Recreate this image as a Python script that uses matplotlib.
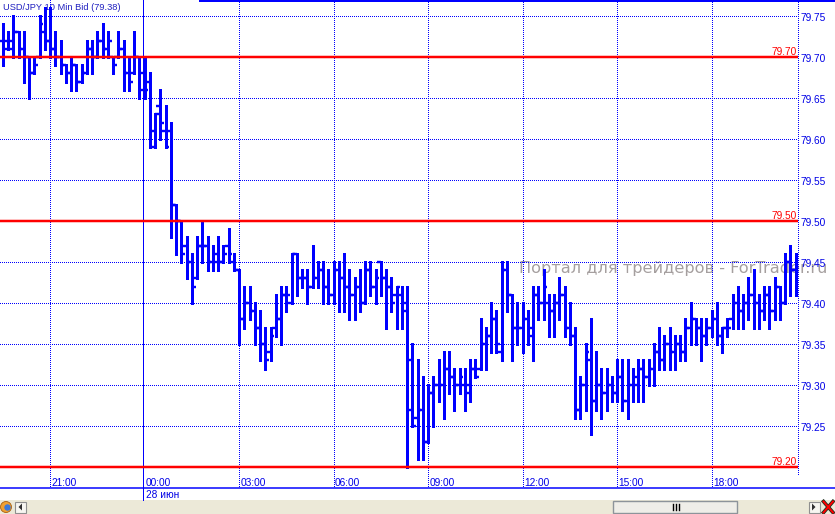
import numpy as np
import pandas as pd
import matplotlib
matplotlib.use('Agg')
import matplotlib.pyplot as plt
import matplotlib.transforms as mtransforms
from matplotlib.collections import LineCollection
from matplotlib.patches import Rectangle, Polygon, Circle

plt.rcParams['font.family'] = ['Liberation Sans', 'DejaVu Sans']

# ---- data (USD/JPY, 10 min bars) ----
title = 'USD/JPY 10 Min Bid (79.38)'
start_time = '2012-06-27 19:30'
month_names = ['янв', 'фев', 'мар', 'апр', 'мая', 'июн', 'июл', 'авг', 'сен', 'окт', 'ноя', 'дек']

opens = [
    79.72, 79.72, 79.71, 79.73, 79.71, 79.70, 79.68, 79.70, 79.73, 79.72,
    79.71, 79.70, 79.69, 79.68, 79.69, 79.67, 79.68, 79.71, 79.70, 79.72,
    79.71, 79.70, 79.70, 79.71, 79.68, 79.68, 79.70, 79.68, 79.67, 79.61,
    79.64, 79.61, 79.61, 79.52, 79.50, 79.47, 79.45, 79.43, 79.47, 79.47,
    79.45, 79.45, 79.45, 79.47, 79.45, 79.44, 79.38, 79.40, 79.39, 79.37,
    79.35, 79.34, 79.37, 79.38, 79.41, 79.40, 79.46, 79.43, 79.43, 79.42,
    79.43, 79.44, 79.42, 79.41, 79.44, 79.43, 79.42, 79.41, 79.42, 79.40,
    79.44, 79.42, 79.45, 79.43, 79.42, 79.41, 79.41, 79.40, 79.33, 79.26,
    79.27, 79.23, 79.29, 79.30, 79.30, 79.32, 79.31, 79.30, 79.30, 79.30,
    79.32, 79.32, 79.35, 79.36, 79.38, 79.34, 79.44, 79.41, 79.37, 79.37,
    79.38, 79.37, 79.41, 79.40, 79.40, 79.39, 79.40, 79.41, 79.37, 79.36,
    79.27, 79.30, 79.33, 79.28, 79.30, 79.29, 79.30, 79.29, 79.31, 79.28,
    79.30, 79.30, 79.32, 79.31, 79.32, 79.34, 79.33, 79.35, 79.34, 79.35,
    79.34, 79.37, 79.38, 79.37, 79.36, 79.37, 79.38, 79.36, 79.37, 79.38,
    79.40, 79.39, 79.40, 79.41, 79.40, 79.39, 79.41, 79.39, 79.42, 79.40,
    79.45, 79.44]
highs = [
    79.74, 79.73, 79.75, 79.73, 79.73, 79.70, 79.70, 79.75, 79.76, 79.76,
    79.73, 79.72, 79.69, 79.70, 79.69, 79.69, 79.72, 79.72, 79.73, 79.74,
    79.73, 79.70, 79.73, 79.72, 79.70, 79.73, 79.70, 79.70, 79.68, 79.63,
    79.66, 79.64, 79.62, 79.52, 79.50, 79.48, 79.46, 79.48, 79.50, 79.48,
    79.47, 79.48, 79.47, 79.49, 79.46, 79.44, 79.42, 79.42, 79.40, 79.39,
    79.37, 79.37, 79.41, 79.42, 79.42, 79.46, 79.46, 79.44, 79.44, 79.47,
    79.45, 79.45, 79.44, 79.45, 79.45, 79.46, 79.44, 79.43, 79.44, 79.45,
    79.45, 79.44, 79.45, 79.44, 79.43, 79.42, 79.42, 79.42, 79.35, 79.33,
    79.31, 79.30, 79.31, 79.33, 79.34, 79.34, 79.32, 79.32, 79.32, 79.33,
    79.33, 79.38, 79.37, 79.40, 79.39, 79.45, 79.45, 79.41, 79.40, 79.40,
    79.39, 79.42, 79.42, 79.44, 79.41, 79.41, 79.43, 79.42, 79.40, 79.37,
    79.31, 79.35, 79.38, 79.34, 79.32, 79.32, 79.31, 79.33, 79.33, 79.33,
    79.32, 79.33, 79.33, 79.33, 79.35, 79.37, 79.36, 79.37, 79.36, 79.36,
    79.38, 79.40, 79.38, 79.38, 79.38, 79.39, 79.40, 79.37, 79.38, 79.41,
    79.42, 79.41, 79.43, 79.44, 79.41, 79.42, 79.42, 79.43, 79.42, 79.46,
    79.47, 79.46]
lows = [
    79.69, 79.71, 79.70, 79.70, 79.67, 79.65, 79.68, 79.70, 79.71, 79.70,
    79.69, 79.68, 79.67, 79.66, 79.66, 79.67, 79.68, 79.68, 79.70, 79.70,
    79.70, 79.68, 79.70, 79.66, 79.66, 79.68, 79.65, 79.65, 79.59, 79.59,
    79.60, 79.59, 79.48, 79.46, 79.45, 79.43, 79.40, 79.43, 79.45, 79.44,
    79.44, 79.44, 79.45, 79.45, 79.44, 79.35, 79.37, 79.38, 79.35, 79.33,
    79.32, 79.33, 79.36, 79.35, 79.39, 79.40, 79.41, 79.42, 79.40, 79.42,
    79.42, 79.40, 79.40, 79.40, 79.39, 79.39, 79.38, 79.38, 79.39, 79.40,
    79.41, 79.40, 79.41, 79.37, 79.39, 79.37, 79.37, 79.20, 79.25, 79.21,
    79.21, 79.23, 79.25, 79.28, 79.26, 79.29, 79.27, 79.29, 79.27, 79.28,
    79.31, 79.32, 79.32, 79.34, 79.34, 79.33, 79.39, 79.33, 79.35, 79.34,
    79.35, 79.33, 79.38, 79.38, 79.36, 79.36, 79.38, 79.36, 79.35, 79.26,
    79.26, 79.27, 79.24, 79.27, 79.26, 79.27, 79.28, 79.28, 79.27, 79.26,
    79.28, 79.28, 79.28, 79.30, 79.30, 79.32, 79.32, 79.32, 79.32, 79.33,
    79.33, 79.35, 79.35, 79.33, 79.35, 79.36, 79.35, 79.34, 79.36, 79.37,
    79.37, 79.37, 79.38, 79.37, 79.37, 79.38, 79.37, 79.38, 79.38, 79.40,
    79.41, 79.41]
closes = [
    79.71, 79.72, 79.73, 79.71, 79.70, 79.68, 79.69, 79.74, 79.72, 79.71,
    79.70, 79.69, 79.68, 79.69, 79.67, 79.68, 79.71, 79.70, 79.72, 79.71,
    79.72, 79.69, 79.71, 79.68, 79.67, 79.70, 79.66, 79.66, 79.59, 79.63,
    79.62, 79.59, 79.52, 79.50, 79.46, 79.45, 79.42, 79.47, 79.47, 79.45,
    79.46, 79.45, 79.46, 79.46, 79.44, 79.38, 79.40, 79.39, 79.37, 79.35,
    79.33, 79.36, 79.38, 79.41, 79.41, 79.46, 79.43, 79.43, 79.42, 79.43,
    79.44, 79.42, 79.41, 79.44, 79.43, 79.42, 79.41, 79.42, 79.40, 79.44,
    79.42, 79.43, 79.43, 79.42, 79.40, 79.42, 79.39, 79.27, 79.25, 79.27,
    79.23, 79.29, 79.30, 79.30, 79.32, 79.31, 79.30, 79.31, 79.29, 79.32,
    79.31, 79.35, 79.36, 79.38, 79.35, 79.44, 79.41, 79.37, 79.37, 79.38,
    79.36, 79.41, 79.40, 79.42, 79.39, 79.40, 79.41, 79.37, 79.36, 79.27,
    79.30, 79.34, 79.28, 79.30, 79.29, 79.30, 79.29, 79.31, 79.28, 79.30,
    79.31, 79.32, 79.31, 79.32, 79.34, 79.33, 79.35, 79.34, 79.35, 79.34,
    79.37, 79.38, 79.37, 79.36, 79.37, 79.38, 79.36, 79.37, 79.37, 79.40,
    79.39, 79.40, 79.41, 79.40, 79.39, 79.41, 79.39, 79.42, 79.40, 79.45,
    79.44, 79.42]

price_levels = [79.75, 79.70, 79.65, 79.60, 79.55, 79.50, 79.45, 79.40, 79.35, 79.30, 79.25]
red_levels = [79.70, 79.50, 79.20]
watermark = 'Портал для трейдеров - ForTrader.ru'

BLUE = '#0000ff'
LABEL = '#0000e6'
RED = '#ff0000'
PX = 72 / 100  # one pixel in points

# ---- figure / pixel canvas ----
W, H = 835, 514
fig = plt.figure(figsize=(W / 100, H / 100), dpi=100)
pax = fig.add_axes([0, 0, 1, 1])
pax.set_xlim(0, W)
pax.set_ylim(H, 0)
pax.axis('off')

# chart area: x 0..798 px, y 0..487 px ; 10 min bar = 5.25 px, 0.01 = 8.2 px
CR, CB = 798, 487
ax = fig.add_axes([0, 1 - CB / H, CR / W, CB / H])
ax.patch.set_visible(False)
ax.axis('off')
ax.set_xlim(-2.75 / 5.25, (CR - 2.75) / 5.25)
ax.set_ylim(79.20 - (CB - 467) / 820, 79.70 + 57 / 820)

times = pd.date_range(start_time, periods=len(closes), freq='10min')
idx = np.arange(len(closes))

xdata_ypix = mtransforms.blended_transform_factory(ax.transData, pax.transData)
xpix_ydata = mtransforms.blended_transform_factory(pax.transData, ax.transData)
dot = (0, (1, 2))

# horizontal grid (crisp 1px dots)
for lv in price_levels:
    if lv not in red_levels:
        ax.axhline(lv, color=BLUE, lw=PX, ls=dot, antialiased=False, zorder=1)
# right axis line
pax.plot([CR - 0.5, CR - 0.5], [0, 475], color=BLUE, lw=PX, ls=dot, antialiased=False)

# time grid + labels
new_day = [i for i in idx[1:] if times[i].date() != times[i - 1].date()]
for i in idx:
    t = times[i]
    if t.minute == 0 and t.hour % 3 == 0:
        if i in new_day:
            pax.plot([i - 0.2, i - 0.2], [0, 500], color=BLUE, lw=PX, transform=xdata_ypix,
                     antialiased=False, zorder=3)
        else:
            pax.plot([i, i], [0, CB], color=BLUE, lw=PX, ls=dot, transform=xdata_ypix,
                     antialiased=False, zorder=3)
        ax.text(i + 0.3, 485.7, t.strftime('%H:%M'), transform=xdata_ypix, color=LABEL,
                fontsize=7.3, ha='left', va='baseline', clip_on=False)
for i in new_day:
    t = times[i]
    ax.text(i + 0.35, 498, '%d %s' % (t.day, month_names[t.month - 1]), transform=xdata_ypix,
            color=LABEL, fontsize=7.3, ha='left', va='baseline', clip_on=False)

# price labels on the right
for lv in price_levels:
    tr = mtransforms.offset_copy(xpix_ydata, fig=fig, x=0, y=-4.7, units='dots')
    pax.text(800.5, lv, '%.2f' % lv, transform=tr, color=LABEL, fontsize=7.3,
             ha='left', va='baseline')

# watermark (under the bars, runs over the price column like in the terminal)
pax.text(519, 273, watermark, color='#a59f9f', fontsize=11.65, family='DejaVu Sans',
         ha='left', va='baseline', zorder=1)

# ---- OHLC bars ----
vert = [[(i, l), (i, h)] for i, l, h in zip(idx, lows, highs)]
otick = [[(i - 0.75, o), (i, o)] for i, o in zip(idx, opens)]
ctick = [[(i, c), (i + 0.75, c)] for i, c in zip(idx, closes)]
ax.add_collection(LineCollection(vert, colors=BLUE, linewidths=3 * PX, capstyle='projecting', zorder=4))
ax.add_collection(LineCollection(otick + ctick, colors=BLUE, linewidths=2.4 * PX, zorder=4))

# red level lines
for lv in red_levels:
    ax.axhline(lv, color=RED, lw=2.5 * PX, zorder=5)
    tr = mtransforms.offset_copy(xpix_ydata, fig=fig, x=0, y=2, units='dots')
    pax.text(796.5, lv, '%.2f' % lv, transform=tr, color=RED, fontsize=7.3,
             ha='right', va='baseline', zorder=6)

# title
pax.text(3, 10.5, title, color='#2020c0', fontsize=6.7, ha='left', va='baseline', zorder=2)

# top / bottom frame lines
pax.plot([200, W], [1, 1], color=BLUE, lw=2 * PX)
pax.plot([0, W], [488, 488], color=BLUE, lw=1.5 * PX)

# ---- scroll bar ----
pax.add_patch(Rectangle((0, 500), W, 14, fc='#ece9d8', ec='none'))
pax.add_patch(Circle((6, 507), 5.5, fc='#f0a030', ec='#a86010', lw=0.6))
pax.add_patch(Circle((7.5, 507.5), 3.2, fc='#3a78d8', ec='none'))
pax.add_patch(Rectangle((14.5, 501.5), 11, 11, fc='#f7f6f1', ec='#8f8f8f', lw=0.8))
pax.add_patch(Polygon([(22, 503.5), (22, 510.5), (18.5, 507)], fc='#303030', ec='none'))
pax.add_patch(Rectangle((612.5, 500.5), 124.5, 12, fc='#efeee8', ec='#8d949a', lw=1))
for gx in [672.5, 675.5, 678.5]:
    pax.plot([gx, gx], [503.5, 509.5], color='black', lw=1.4 * PX)
pax.add_patch(Rectangle((808.5, 501.5), 11, 11, fc='#f7f6f1', ec='#8f8f8f', lw=0.8))
pax.add_patch(Polygon([(812, 503.5), (812, 510.5), (815.5, 507)], fc='#303030', ec='none'))
pax.plot([823.5, 833], [501.5, 512.5], color='#203020', lw=2.6)
pax.plot([823.5, 833], [512.5, 501.5], color='#203020', lw=2.6)
pax.plot([823.5, 833], [501.5, 512.5], color=RED, lw=1.4)
pax.plot([823.5, 833], [512.5, 501.5], color=RED, lw=1.4)

fig.savefig('out.png', dpi=100)
